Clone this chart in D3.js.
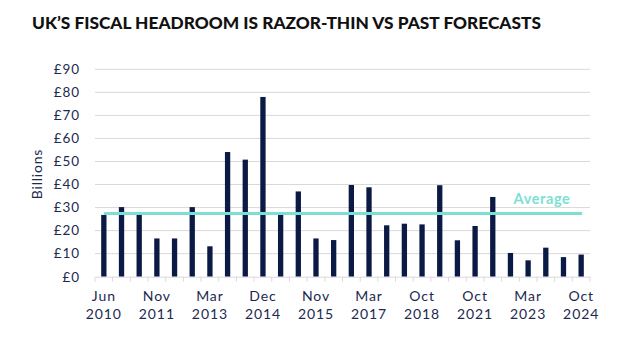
<!DOCTYPE html>
<html>
<head>
<meta charset="utf-8">
<script src="https://cdn.jsdelivr.net/npm/d3@7"></script>
<style>
  html, body { margin: 0; padding: 0; background: #ffffff; }
  svg { display: block; }
  text { font-family: Lato, "Noto Sans", sans-serif; }
</style>
</head>
<body>
<svg id="chart" width="621" height="341"></svg>
<script>
// Fiscal headroom at each fiscal event, £ billions
const events = [
  "Jun 2010", "Nov 2010", "Mar 2011", "Nov 2011", "Mar 2012", "Dec 2012",
  "Mar 2013", "Dec 2013", "Mar 2014", "Dec 2014", "Mar 2015", "Jul 2015",
  "Nov 2015", "Mar 2016", "Nov 2016", "Mar 2017", "Nov 2017", "Mar 2018",
  "Oct 2018", "Mar 2020", "Mar 2021", "Oct 2021", "Mar 2022", "Nov 2022",
  "Mar 2023", "Nov 2023", "Mar 2024", "Oct 2024"
];
const headroom = [
  26.8, 30.2, 26.8, 16.6, 16.6, 30.2, 13.2, 54.1, 50.8, 78.0, 26.8, 37.0,
  16.6, 15.9, 39.8, 38.8, 22.3, 23.0, 22.7, 39.7, 15.8, 22.0, 34.6, 10.3,
  7.1, 12.6, 8.5, 9.6
];
const averageHeadroom = 27.4;
const yTicks = [0, 10, 20, 30, 40, 50, 60, 70, 80, 90];
// Every third event carries a two-line date label
const labelledEvents = [
  "Jun 2010", "Nov 2011", "Mar 2013", "Dec 2014", "Nov 2015",
  "Mar 2017", "Oct 2018", "Oct 2021", "Mar 2023", "Oct 2024"
];

const svg = d3.select("#chart");
const plot = { left: 95, right: 590, top: 69.3, bottom: 276.7 };

const x = d3.scaleBand()
  .domain(events)
  .range([plot.left, plot.right])
  .paddingInner(0.7)
  .paddingOuter(0.35);
const band = d3.scaleBand().domain(events).range([plot.left, plot.right]);

const y = d3.scaleLinear().domain([0, 90]).range([plot.bottom, plot.top]);

const inkColour = "#1c2a4f";

// Title
svg.append("text")
  .attr("x", 32)
  .attr("y", 29)
  .attr("textLength", 509)
  .attr("lengthAdjust", "spacingAndGlyphs")
  .style("font-size", "16px")
  .style("font-weight", 900)
  .style("fill", "#111111")
  .text("UK\u2019S FISCAL HEADROOM IS RAZOR-THIN VS PAST FORECASTS");

// Horizontal gridlines
svg.append("g")
  .selectAll("line")
  .data(yTicks.filter(d => d > 0))
  .join("line")
  .attr("x1", plot.left)
  .attr("x2", plot.right)
  .attr("y1", d => y(d))
  .attr("y2", d => y(d))
  .attr("stroke", "#d9d9d9")
  .attr("stroke-width", 1);

// Y axis labels
const yAxis = d3.axisLeft(y)
  .tickValues(yTicks)
  .tickFormat(d => "\u00a3" + d)
  .tickSize(0)
  .tickPadding(0);
const yg = svg.append("g")
  .attr("transform", `translate(80,0)`)
  .call(yAxis);
yg.select(".domain").remove();
yg.selectAll("text")
  .style("font-family", "Lato, sans-serif")
  .style("font-size", "13.5px")
  .style("letter-spacing", "0.9px")
  .style("fill", inkColour);

// Y axis title
svg.append("text")
  .attr("transform", `translate(42,${(plot.top + plot.bottom) / 2 + 1}) rotate(-90)`)
  .attr("text-anchor", "middle")
  .style("font-size", "14px")
  .style("letter-spacing", "0.8px")
  .style("fill", inkColour)
  .text("Billions");

// Bars
svg.append("g")
  .selectAll("rect")
  .data(events.map((e, i) => ({ e, v: headroom[i] })))
  .join("rect")
  .attr("x", d => x(d.e))
  .attr("width", x.bandwidth())
  .attr("y", d => y(d.v))
  .attr("height", d => y(0) - y(d.v))
  .attr("fill", "#0b1a45");

// Baseline and category ticks
const xAxis = d3.axisBottom(band)
  .tickValues([])
  .tickSizeOuter(0);
const xg = svg.append("g")
  .attr("transform", `translate(0,${plot.bottom})`)
  .call(xAxis);
xg.select(".domain").attr("stroke", "#d9d9d9");
const boundaries = events.map(e => band(e)).concat([plot.right]);
xg.selectAll(".cat-tick")
  .data(boundaries)
  .join("line")
  .attr("class", "cat-tick")
  .attr("x1", d => d).attr("x2", d => d)
  .attr("y1", 0).attr("y2", 5)
  .attr("stroke", "#d9d9d9");

// Two-line date labels
const lbl = svg.append("g")
  .selectAll("text")
  .data(labelledEvents)
  .join("text")
  .attr("x", d => band(d) + band.bandwidth() / 2)
  .attr("text-anchor", "middle")
  .style("font-size", "14px")
  .style("letter-spacing", "0.9px")
  .style("fill", inkColour);
lbl.append("tspan")
  .attr("x", d => band(d) + band.bandwidth() / 2)
  .attr("y", 301)
  .text(d => d.split(" ")[0]);
lbl.append("tspan")
  .attr("x", d => band(d) + band.bandwidth() / 2)
  .attr("y", 319)
  .text(d => d.split(" ")[1]);

// Average line
const firstC = band(events[0]) + band.bandwidth() / 2;
const lastC = band(events[events.length - 1]) + band.bandwidth() / 2;
svg.append("line")
  .attr("x1", firstC)
  .attr("x2", lastC + 1)
  .attr("y1", y(averageHeadroom))
  .attr("y2", y(averageHeadroom))
  .attr("stroke", "#7ddfd4")
  .attr("stroke-width", 3);

svg.append("text")
  .attr("x", 542)
  .attr("y", 204)
  .attr("text-anchor", "middle")
  .style("font-size", "14.5px")
  .style("font-weight", 700)
  .style("letter-spacing", "0.6px")
  .style("fill", "#7ddfd4")
  .text("Average");
</script>
</body>
</html>
